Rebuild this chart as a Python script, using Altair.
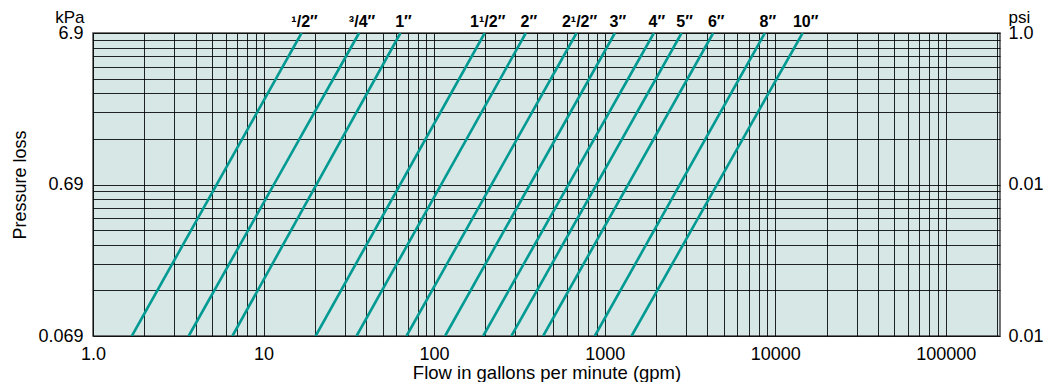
import altair as alt
import pandas as pd

# ---- data ----
pipe_sizes = ["¹/2″", "³/4″", "1″", "1¹/2″", "2″", "2¹/2″", "3″", "4″", "5″", "6″", "8″", "10″"]
flow_at_top_gpm = [16.7, 36.3, 63.5, 198, 345, 684, 1148, 1943, 2825, 4329, 8700, 14480]
flow_at_bottom_gpm = [1.69, 3.64, 6.57, 20.2, 35.1, 68.9, 116, 194, 284, 436, 876, 1438]
pressure_top_kpa = 6.9
pressure_bottom_kpa = 0.069

x_grid_values = [m * 10 ** e for e in range(6) for m in range(1, 10)] + [200000]
x_label_values = [1, 10, 100, 1000, 10000, 100000]
x_label_texts = ["1.0", "10", "100", "1000", "10000", "100000"]

y_grid_values = [0.069, 0.138, 0.207, 0.276, 0.345, 0.414, 0.483, 0.552, 0.621,
                 0.69, 1.38, 2.07, 2.76, 3.45, 4.14, 4.83, 5.52, 6.21, 6.9]
y_label_values = [6.9, 0.69, 0.069]
y_left_texts = ["6.9", "0.69", "0.069"]
y_right_texts = ["1.0", "0.01", "0.01"]

# ---- tables ----
rows = []
for s, qt, qb in zip(pipe_sizes, flow_at_top_gpm, flow_at_bottom_gpm):
    rows.append({"size": s, "flow": qt, "pressure": pressure_top_kpa})
    rows.append({"size": s, "flow": qb, "pressure": pressure_bottom_kpa})
line_df = pd.DataFrame(rows)
label_df = pd.DataFrame({"size": pipe_sizes, "flow": flow_at_top_gpm,
                         "pressure": [pressure_top_kpa] * len(pipe_sizes)})

FONT = "Liberation Sans"
TEAL = "#009a92"


def label_expr(values, texts):
    expr = "''"
    for v, t in reversed(list(zip(values, texts))):
        expr = f"abs(datum.value - {v}) < {v} * 1e-6 ? '{t}' : ({expr})"
    return expr


xscale = alt.Scale(type="log", domain=[1, 208000], nice=False)
yscale = alt.Scale(type="log", domain=[pressure_bottom_kpa, pressure_top_kpa], nice=False)

x_axis_bottom = alt.Axis(
    values=x_grid_values, grid=True, gridColor="black", gridOpacity=0.85, gridWidth=1,
    ticks=False, domain=False, labelExpr=label_expr(x_label_values, x_label_texts),
    labelFont=FONT, labelFontSize=18, labelColor="black", labelPadding=9,
    labelOverlap=False, labelFlush=False,
    title="Flow in gallons per minute (gpm)", titleFont=FONT, titleFontSize=18.5,
    titleFontWeight="normal", titleColor="black", titleBaseline="alphabetic", titleY=42,
)
y_axis_left = alt.Axis(
    values=y_grid_values, grid=True, gridColor="black", gridOpacity=0.85, gridWidth=1,
    ticks=False, domain=False, labelExpr=label_expr(y_label_values, y_left_texts),
    labelFont=FONT, labelFontSize=18, labelColor="black", labelPadding=10,
    labelOverlap=False, labelFlush=False,
    title="Pressure loss", titleFont=FONT, titleFontSize=18, titleFontWeight="normal",
    titleColor="black", titleAngle=270, titleBaseline="alphabetic", titleAlign="center",
    titleX=-68, titleY=151.5,
)
x_axis_top = alt.Axis(
    orient="top", labels=False, ticks=False, domain=False, grid=False,
    title="kPa", titleFont=FONT, titleFontSize=17, titleFontWeight="normal",
    titleColor="black", titleAngle=0, titleAlign="right", titleBaseline="alphabetic",
    titleX=-9, titleY=-11,
)
y_axis_right = alt.Axis(
    orient="right", values=y_label_values, grid=False, ticks=False, domain=False,
    labelExpr=label_expr(y_label_values, y_right_texts),
    labelFont=FONT, labelFontSize=18, labelColor="black", labelPadding=8,
    labelOverlap=False, labelFlush=False,
    title="psi", titleFont=FONT, titleFontSize=17, titleFontWeight="normal",
    titleColor="black", titleAngle=0, titleAlign="left", titleBaseline="alphabetic",
    titleX=8, titleY=-11,
)

lines = alt.Chart(line_df).mark_line(color=TEAL, strokeWidth=2.6, clip=True).encode(
    x=alt.X("flow:Q", scale=xscale, axis=x_axis_bottom),
    y=alt.Y("pressure:Q", scale=yscale, axis=y_axis_left),
    detail="size:N",
)

labels = alt.Chart(label_df).mark_text(
    font=FONT, fontSize=16, fontWeight="bold", color="black",
    align="center", baseline="alphabetic", dx=3, dy=-6,
).encode(
    x=alt.X("flow:Q", scale=xscale, axis=x_axis_top),
    y=alt.Y("pressure:Q", scale=yscale, axis=y_axis_right),
    text="size:N",
)

chart = (
    alt.layer(lines, labels)
    .resolve_axis(x="independent", y="independent")
    .properties(
        width=907, height=303,
        autosize=alt.AutoSizeParams(type="none"),
        padding={"left": 85, "top": 25, "right": 48, "bottom": 46},
    )
    .configure(font=FONT)
    .configure_view(fill="#d6e7e6", stroke="#4a4a4a", strokeWidth=1.5)
)

chart.save("out.html", embed_options={"renderer": "svg", "actions": False})
